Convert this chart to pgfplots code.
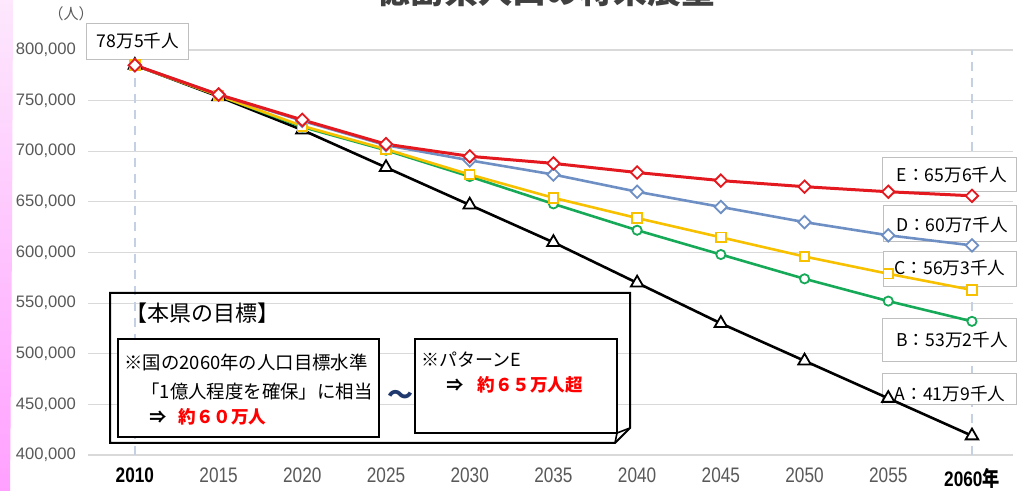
\documentclass[border=0pt]{standalone}
\usepackage{pgfplots}
\usepackage{pgfplotstable}
\pgfplotsset{compat=1.18}
\usepackage{fontspec}
\setmainfont{Liberation Sans}
\newfontfamily\jp{Noto Sans CJK JP}
\definecolor{cE}{RGB}{227,25,31}
\definecolor{cD}{RGB}{110,143,196}
\definecolor{cC}{RGB}{247,193,0}
\definecolor{cB}{RGB}{22,170,88}
\definecolor{cA}{RGB}{0,0,0}
\definecolor{tickgray}{RGB}{89,89,89}
\definecolor{gridgray}{RGB}{217,217,217}
\definecolor{dashblue}{RGB}{196,208,228}
\definecolor{boxgray}{RGB}{191,191,191}
\definecolor{navy}{RGB}{31,56,110}
\definecolor{redtxt}{RGB}{255,0,0}
\definecolor{titlegray}{RGB}{64,64,64}
\definecolor{pinktop}{RGB}{253,232,253}
\definecolor{pinkbot}{RGB}{255,160,255}
\newcommand\xl[1]{\scalebox{0.82}[1]{#1}}
\newcommand\xb[1]{\scalebox{0.82}[1]{\bfseries\color{black}#1}}

\pgfplotstableread{
year A B C D E
2010 785000 785000 785000 785000 785000
2015 754000 755000 755000 756000 756000
2020 721000 724000 725000 730000 731000
2025 684000 701000 702000 706000 707000
2030 647000 675000 677000 691000 695000
2035 610000 648000 654000 677000 688000
2040 570000 622000 634000 660000 679000
2045 530000 598000 615000 645000 671000
2050 493000 574000 596000 630000 665000
2055 456000 552000 579000 617000 660000
2060 419000 532000 563000 607000 656000
}\data

\begin{document}
\begin{tikzpicture}
\useasboundingbox (0,0) rectangle (512.5pt,-245.5pt);
\fill[white] (0,0) rectangle (512.5pt,-245.5pt);
% pink strip on the left
\shade[top color=pinktop, bottom color=pinkbot]
  (0,0) -- (6.5pt,0) -- (6pt,-120pt) -- (5pt,-245.5pt) -- (0,-245.5pt) -- cycle;

\begin{axis}[
  at={(44pt,-227.5pt)}, anchor=south west,
  scale only axis, width=462.5pt, height=202.5pt,
  xmin=2007.2, xmax=2062.45, ymin=400000, ymax=800000,
  axis line style={draw=none},
  major tick length=0pt,
  /pgf/number format/fixed,
  /pgf/number format/assume math mode=true,
  /pgf/number format/1000 sep={,},
  xtick={2010,2015,2020,2025,2030,2035,2040,2045,2050,2055,2060},
  xticklabels={\xb{2010},\xl{2015},\xl{2020},\xl{2025},\xl{2030},\xl{2035},\xl{2040},\xl{2045},\xl{2050},\xl{2055},\xb{2060{\jp 年}}},
  xticklabel style={font=\fontsize{10.5}{12}\selectfont, text=tickgray, yshift=-3pt},
  ytick={400000,450000,500000,550000,600000,650000,700000,750000,800000},
  scaled y ticks=false,
  yticklabel style={font=\fontsize{8.3}{10}\selectfont, text=tickgray, xshift=-2.5pt},
  ymajorgrids, major grid style={gridgray, line width=0.6pt},
  clip=false,
]
\draw[dashblue, line width=1.3pt, dash pattern=on 4.5pt off 3.5pt] (axis cs:2010,400000) -- (axis cs:2010,800000);
\draw[dashblue, line width=1.3pt, dash pattern=on 4.5pt off 3.5pt] (axis cs:2060,400000) -- (axis cs:2060,800000);
% value label boxes (under the series, over the grid)
\draw[draw=boxgray, line width=0.5pt, fill=white] (axis cs:2007.14,826667) rectangle (axis cs:2013.23,791111);
\draw[draw=boxgray, line width=0.5pt, fill=white] (axis cs:2054.63,694321) rectangle (axis cs:2062.63,659753);
\draw[draw=boxgray, line width=0.5pt, fill=white] (axis cs:2054.74,645926) rectangle (axis cs:2062.63,610370);
\draw[draw=boxgray, line width=0.5pt, fill=white] (axis cs:2054.74,600494) rectangle (axis cs:2062.63,565926);
\draw[draw=boxgray, line width=0.5pt, fill=white] (axis cs:2054.63,534321) rectangle (axis cs:2062.63,491852);
\draw[draw=boxgray, line width=0.5pt, fill=white] (axis cs:2054.63,480000) rectangle (axis cs:2062.63,449383);
\addplot[cA, line width=1.3pt, mark=triangle*, mark size=3.6pt, mark options={fill=white, line width=0.9pt, solid}] table[x=year,y=A] {\data};
\addplot[cB, line width=1.3pt, mark=*, mark size=2.3pt, mark options={fill=white, line width=0.9pt, solid}] table[x=year,y=B] {\data};
\addplot[cC, line width=1.3pt, mark=square*, mark size=2.4pt, mark options={fill=white, line width=0.9pt, solid}] table[x=year,y=C] {\data};
\addplot[cD, line width=1.3pt, mark=square*, mark size=2.2pt, mark options={rotate=45, fill=white, line width=0.9pt, solid}] table[x=year,y=D] {\data};
\addplot[cE, line width=1.5pt, mark=square*, mark size=2.2pt, mark options={rotate=45, fill=white, line width=0.9pt, solid}] table[x=year,y=E] {\data};
\end{axis}

\begin{scope}[x=0.5pt,y=-0.5pt]
% cropped title
\node[anchor=base, font=\jp\bfseries\fontsize{17}{19}\selectfont, text=titlegray] at (546,3.5) {徳島県人口の将来展望};
% unit
\node[font=\jp\fontsize{7.5}{8}\selectfont, text=tickgray] at (71,14) {（人）};
% value label texts
\tikzset{vtxt/.style={font=\jp\fontsize{8.8}{10}\selectfont, text=black, inner sep=0pt}}
\node[vtxt] at (138,41) {78万5千人};
\node[vtxt] at (952,175) {E：65万6千人};
\node[vtxt] at (952,225) {D：60万7千人};
\node[vtxt] at (950,268) {C：56万3千人};
\node[vtxt] at (952,340) {B：53万2千人};
\node[vtxt] at (950,394) {A：41万9千人};
% goal box (outer frame transparent)
\draw[line width=1pt] (110,293) -- (630,293) -- (630,428) -- (615,443) -- (110,443) -- cycle;
\node[anchor=west, inner sep=0pt, font=\jp\fontsize{11}{12}\selectfont] at (125,313) {【本県の目標】};
\draw[line width=1pt, fill=white] (118,339) rectangle (379,437);
\node[anchor=west, inner sep=0pt, font=\jp\fontsize{9.2}{10}\selectfont] at (124,362) {※国の2060年の人口目標水準};
\node[anchor=west, inner sep=0pt, font=\jp\fontsize{9.2}{10}\selectfont] at (141,392) {「1億人程度を確保」に相当};
\node[anchor=west, inner sep=0pt, font=\jp\bfseries\fontsize{8.5}{10}\selectfont] at (149,417) {⇒};
\node[anchor=west, inner sep=0pt, font=\jp\bfseries\fontsize{8.8}{10}\selectfont, text=redtxt] at (178,417) {約６０万人};
\node[font=\jp\bfseries\fontsize{13}{14}\selectfont, text=navy] at (400,397) {～};
\draw[line width=1pt, fill=white] (415,339) -- (617,339) -- (617,433) -- (415,433) -- cycle;
\draw[line width=0.8pt] (617,433) -- (630,428);
\draw[line width=0.8pt] (617,433) -- (615,443);
\node[anchor=west, inner sep=0pt, font=\jp\fontsize{9}{10}\selectfont] at (421,360) {※パターンE};
\node[anchor=west, inner sep=0pt, font=\jp\bfseries\fontsize{8.5}{10}\selectfont] at (446,385) {⇒};
\node[anchor=west, inner sep=0pt, font=\jp\bfseries\fontsize{8.8}{10}\selectfont, text=redtxt] at (477,385) {約６５万人超};
\end{scope}
\end{tikzpicture}
\end{document}
